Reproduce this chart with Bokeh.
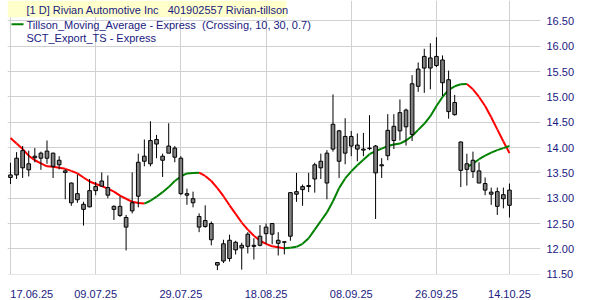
from bokeh.plotting import figure
from bokeh.models import FixedTicker, NumeralTickFormatter, Label, BoxAnnotation, Range1d
from bokeh.embed import file_html
from bokeh.resources import INLINE

# ---------------- data ----------------
tick_idx = [0, 14, 28, 42, 56, 70, 82]
tick_labels = ["17.06.25", "09.07.25", "29.07.25", "18.08.25", "08.09.25", "26.09.25", "14.10.25"]
price_ticks = [11.5, 12.0, 12.5, 13.0, 13.5, 14.0, 14.5, 15.0, 15.5, 16.0, 16.5]

high = [13.70, 13.91, 14.03, 13.94, 13.99, 13.92, 14.14, 13.90, 13.83, 13.57,
        13.31, 13.47, 12.93, 13.38, 13.32, 13.51, 13.45, 12.86, 13.04, 12.67,
        13.51, 13.88, 14.16, 14.52, 14.25, 13.88, 14.48, 14.03, 13.83, 13.19,
        13.13, 12.70, 12.86, 12.54, 11.74, 12.18, 12.28, 12.16, 12.12, 12.33,
        12.21, 12.47, 12.50, 12.51, 12.33, 12.15, 13.12, 13.50, 13.27, 13.50,
        13.70, 13.88, 13.95, 15.05, 14.35, 14.58, 14.33, 14.28, 14.29, 14.64,
        14.05, 13.79, 14.66, 14.66, 14.95, 14.77, 15.43, 15.68, 15.95, 16.06,
        16.18, 15.82, 15.52, 15.04, 14.12, 13.88, 13.92, 13.71, 13.41, 13.21,
        13.21, 13.21, 13.29]
low = [13.28, 13.38, 13.40, 13.43, 13.71, 13.56, 13.68, 13.40, 13.57, 12.98,
       12.85, 12.91, 12.46, 12.82, 13.06, 13.23, 13.00, 12.57, 12.63, 11.97,
       12.70, 12.82, 13.63, 13.63, 13.79, 13.42, 13.89, 13.71, 13.06, 12.87,
       12.82, 12.33, 12.42, 12.07, 11.58, 11.72, 11.75, 11.89, 11.59, 11.91,
       11.79, 12.05, 12.10, 12.09, 11.87, 11.89, 12.16, 12.93, 12.85, 13.12,
       13.11, 13.38, 12.98, 13.92, 13.40, 13.67, 13.83, 13.73, 13.83, 13.95,
       12.59, 13.40, 13.75, 13.97, 14.14, 14.04, 14.13, 15.10, 15.08, 15.15,
       15.59, 15.02, 14.57, 14.63, 13.22, 13.25, 13.40, 13.30, 13.06, 12.87,
       12.67, 12.80, 12.62]
open_ = [13.41, 13.46, 13.60, 13.56, 13.80, 13.79, 13.79, 13.63, 13.66, 13.51,
         12.91, 12.97, 12.78, 12.83, 13.15, 13.24, 13.06, 12.78, 12.66, 12.43,
         12.75, 13.04, 13.73, 13.68, 14.07, 13.75, 13.89, 13.81, 13.09, 13.06,
         12.91, 12.43, 12.44, 12.18, 11.68, 11.76, 11.81, 11.98, 12.02, 12.05,
         12.05, 12.07, 12.30, 12.29, 12.11, 12.13, 12.25, 13.08, 13.17, 13.23,
         13.38, 13.60, 13.30, 13.97, 13.73, 13.89, 14.03, 13.97, 13.95, 13.98,
         13.50, 13.64, 13.84, 14.14, 14.33, 14.41, 14.26, 15.21, 15.57, 15.57,
         15.62, 15.28, 14.71, 14.65, 13.55, 13.57, 13.53, 13.30, 13.16, 13.08,
         12.84, 12.99, 12.86]
close = [13.46, 13.79, 13.94, 13.68, 13.83, 13.89, 13.93, 13.89, 13.75, 13.54,
         13.30, 13.09, 12.88, 13.15, 13.23, 13.34, 13.21, 12.84, 12.84, 12.62,
         12.91, 13.71, 13.83, 14.14, 14.16, 13.83, 14.03, 13.99, 13.79, 13.09,
         12.99, 12.64, 12.56, 12.50, 11.73, 12.10, 12.17, 12.13, 12.07, 12.29,
         12.07, 12.25, 12.43, 12.50, 12.17, 12.14, 13.11, 13.13, 13.23, 13.25,
         13.66, 13.73, 13.89, 14.46, 14.33, 14.22, 14.22, 14.05, 13.97, 13.99,
         14.03, 13.66, 14.34, 14.42, 14.69, 14.74, 15.26, 15.55, 15.80, 15.77,
         15.80, 15.73, 15.34, 14.89, 14.11, 13.68, 13.75, 13.54, 13.29, 13.12,
         13.13, 13.07, 13.16]

tillson = [14.19, 14.08, 13.97, 13.84, 13.75, 13.69, 13.63, 13.62, 13.60, 13.58,
           13.54, 13.49, 13.41, 13.33, 13.28, 13.24, 13.19, 13.13, 13.05, 12.99,
           12.93, 12.905, 12.895, 12.95, 13.03, 13.12, 13.22, 13.34, 13.43, 13.49,
           13.50, 13.505, 13.44, 13.34, 13.20, 13.04, 12.86, 12.69, 12.52, 12.38,
           12.26, 12.16, 12.10, 12.05, 12.03, 12.01, 12.02, 12.04, 12.10, 12.21,
           12.38, 12.55, 12.72, 12.94, 13.20, 13.39, 13.53, 13.65, 13.76, 13.87,
           13.93, 13.98, 14.03, 14.06, 14.08, 14.14, 14.23, 14.35, 14.47, 14.62,
           14.82, 15.00, 15.14, 15.21, 15.25, 15.255, 15.15, 15.00, 14.82, 14.60,
           14.36, 14.12, 13.89]
tillson2_start = 75
tillson2 = [13.62, 13.68, 13.77, 13.84, 13.90, 13.95, 13.99, 14.03]

last_price = 13.16

NB = "\u00a0"
legend_title = "[1 D] Rivian Automotive Inc" + NB * 3 + "401902557 Rivian-tillson"
legend_line1 = "Tillson_Moving_Average - Express" + NB * 2 + "(Crossing, 10, 30, 0.7)"
legend_line2 = "SCT_Export_TS - Express"

# ---------------- layout ----------------
FRAME_L, FRAME_R, FRAME_T, FRAME_B = 7, 540, 0, 277
X0, X1 = -0.49, 87.1
Y0, Y1 = 11.494, 16.904
TEXT = "#1a1a80"
FONT = "Liberation Sans"


def px_x(px):
    return X0 + (px - FRAME_L) / (FRAME_R - FRAME_L) * (X1 - X0)


def px_y(py):
    return Y1 - (py - FRAME_T) / (FRAME_B - FRAME_T) * (Y1 - Y0)


p = figure(width=600, height=300, x_range=Range1d(X0, X1), y_range=Range1d(Y0, Y1),
           y_axis_location="right", output_backend="svg", toolbar_location=None,
           min_border_left=FRAME_L, min_border_right=600 - FRAME_R,
           min_border_top=FRAME_T, min_border_bottom=300 - FRAME_B)
p.outline_line_color = None
p.background_fill_color = "white"
p.border_fill_color = "white"

# grids
p.xgrid.ticker = FixedTicker(ticks=tick_idx)
p.ygrid.ticker = FixedTicker(ticks=price_ticks)
p.grid.grid_line_color = "#d0d0d0"
p.grid.grid_line_width = 1

# x axis (first label nudged right so it stays inside the picture)
first_shift = 3.5
xt = [tick_idx[0] + first_shift] + tick_idx[1:]
p.xaxis.ticker = FixedTicker(ticks=xt)
p.xaxis.major_label_overrides = {t: lab for t, lab in zip(xt, tick_labels)}
p.xaxis.axis_line_color = None
p.xaxis.major_tick_line_color = None
p.xaxis.minor_tick_line_color = None
p.xaxis.major_label_standoff = 9
p.xaxis.major_label_text_font = FONT
p.xaxis.major_label_text_font_size = "11px"
p.xaxis.major_label_text_color = TEXT

# y axis on the right
p.yaxis.ticker = FixedTicker(ticks=price_ticks)
p.yaxis.formatter = NumeralTickFormatter(format="0.00")
p.yaxis.axis_line_color = None
p.yaxis.major_tick_line_color = None
p.yaxis.minor_tick_line_color = None
p.yaxis.major_tick_out = 0
p.yaxis.major_label_standoff = 6
p.yaxis.major_label_text_font = FONT
p.yaxis.major_label_text_font_size = "11px"
p.yaxis.major_label_text_color = TEXT


# Tillson lines, coloured by direction
def add_tillson(start, vals):
    xs0, ys0, xs1, ys1, cols = [], [], [], [], []
    for k in range(len(vals) - 1):
        xs0.append(start + k)
        xs1.append(start + k + 1)
        ys0.append(vals[k])
        ys1.append(vals[k + 1])
        cols.append("#008000" if vals[k + 1] >= vals[k] else "#ff0000")
    p.segment(x0=xs0, y0=ys0, x1=xs1, y1=ys1, line_color=cols, line_width=2)


add_tillson(0, tillson)
add_tillson(tillson2_start, tillson2)

# candles
idx = list(range(len(high)))
p.segment(x0=idx, y0=low, x1=idx, y1=high, line_color="black", line_width=1)
p.vbar(x=idx, width=0.6, top=[max(o, c) for o, c in zip(open_, close)],
       bottom=[min(o, c) for o, c in zip(open_, close)],
       fill_color="#808080", line_color="black", line_width=1)

# legend area
p.add_layout(BoxAnnotation(left=px_x(7), right=px_x(286), top=px_y(0), bottom=px_y(17),
                           fill_color="#ffffcc", fill_alpha=1, line_color=None))
p.add_layout(Label(x=px_x(26), y=px_y(10), text=legend_title,
                   text_font=FONT, text_font_size="11px", text_color=TEXT, text_baseline="middle"))
p.add_layout(BoxAnnotation(left=px_x(11), right=px_x(23), top=px_y(23), bottom=px_y(25),
                           fill_color="#008000", fill_alpha=1, line_color=None))
p.add_layout(Label(x=px_x(26), y=px_y(24.5), text=legend_line1,
                   text_font=FONT, text_font_size="11px", text_color=TEXT, text_baseline="middle"))
p.add_layout(Label(x=px_x(26), y=px_y(37.5), text=legend_line2,
                   text_font=FONT, text_font_size="11px", text_color=TEXT, text_baseline="middle"))

# last price tag
p.add_layout(Label(x=px_x(558), y=last_price, text=f"{last_price:.2f}", text_align="center",
                   text_baseline="middle", text_font=FONT, text_font_size="11px", text_color=TEXT,
                   background_fill_color="#ffffc0", border_line_color="#707070", padding=1))

open("out.html", "w").write(file_html(p, INLINE))
